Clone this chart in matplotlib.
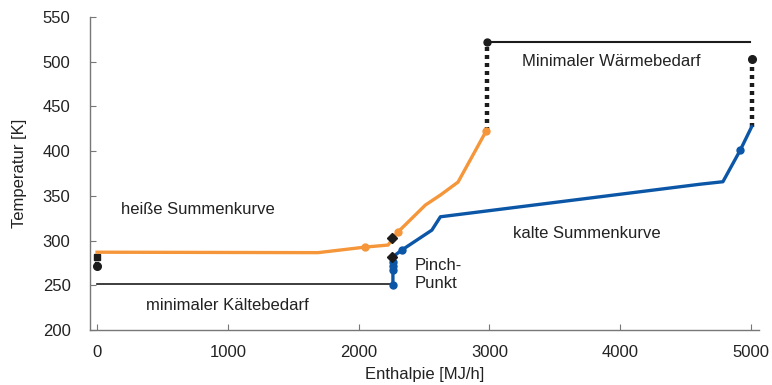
import matplotlib
matplotlib.use("Agg")
import matplotlib.pyplot as plt

plt.rcParams['font.family'] = ['Liberation Sans', 'DejaVu Sans']

# hot composite curve (orange)
hot_h = [0, 1690, 2050, 2225, 2300, 2510, 2625, 2760, 2975]
hot_t = [287, 286.5, 292.7, 295, 309.5, 339.7, 350.9, 365.4, 422.5]
hot_mark_h = [2050, 2300, 2975]
hot_mark_t = [292.7, 309.5, 422.5]

# cold composite curve (blue)
cold_h = [2262, 2262, 2330, 2560, 2625, 4610, 4785, 4918, 5005]
cold_t = [250.2, 281.9, 289.4, 311.7, 326.6, 363, 365.8, 401.2, 427.3]
cold_mark_h = [2262, 2264, 2264, 2264, 2330, 4918]
cold_mark_t = [250.2, 267, 271.5, 276.3, 289.4, 401.2]

# pinch markers
pinch_h = [2257, 2257]
pinch_t = [302.8, 281.9]

# minimal heat / cold demand
heat_top_t = 522.4
heat_left_h = 2980
heat_right_h = 4995
heat_right_top_t = 502.7
cold_line_t = 251.3
left_dot_t = 271.5
left_sq_t = 281.9

orange = '#F5963A'
blue = '#0B56A6'
black = '#1c1c1c'

fig = plt.figure(figsize=(7.72, 3.85), dpi=100)
ax = fig.add_axes([90/772, 55/385, 669/772, 313/385])

# minimal cold demand line
ax.plot([0, cold_h[0]], [cold_line_t, cold_line_t], color=black, lw=1.2)
# left dotted
ax.plot([0, 0], [left_dot_t, left_sq_t], color=black, lw=3, ls=(0, (1, 1)))
ax.plot([0], [left_dot_t], 'o', color=black, ms=5.5)
ax.plot([0], [left_sq_t], 's', color=black, ms=4)

# minimal heat demand
ax.plot([heat_left_h, heat_left_h], [hot_t[-1], heat_top_t], color=black, lw=3.2, ls=(0, (0.9, 0.9)))
ax.plot([heat_left_h, heat_right_h], [heat_top_t, heat_top_t], color=black, lw=1.5)
ax.plot([heat_left_h], [heat_top_t], 'o', color=black, ms=5)
ax.plot([cold_h[-1], cold_h[-1]], [cold_t[-1], heat_right_top_t], color=black, lw=3.2, ls=(0, (0.9, 0.9)))
ax.plot([cold_h[-1]], [heat_right_top_t], 'o', color=black, ms=5.5)

# curves
ax.plot(hot_h, hot_t, color=orange, lw=2.4)
ax.plot(hot_mark_h, hot_mark_t, 'o', color=orange, ms=5)
ax.plot(cold_h, cold_t, color=blue, lw=2.4)
ax.plot(cold_mark_h, cold_mark_t, 'o', color=blue, ms=5)
ax.plot(pinch_h, pinch_t, 'D', color=black, ms=5, ls='none')

ax.set_xlim(-54, 5061)
ax.set_ylim(200, 550)
ax.set_xticks([0, 1000, 2000, 3000, 4000, 5000])
ax.set_yticks([200, 250, 300, 350, 400, 450, 500, 550])
for s in ['top', 'right']:
    ax.spines[s].set_visible(False)
for s in ['left', 'bottom']:
    ax.spines[s].set_color('#777777')
    ax.spines[s].set_linewidth(1.0)
ax.tick_params(direction='in', length=4, color='#777777', labelsize=12, labelcolor='#222222')
ax.tick_params(axis='y', pad=14)
ax.tick_params(axis='x', pad=11)

ax.set_xlabel('Enthalpie [MJ/h]', fontsize=12, color='#222222', labelpad=5)
ax.set_ylabel('Temperatur [K]', fontsize=12, color='#222222', labelpad=11)

tk = dict(fontsize=12, color='#222222', va='center', ha='left')
ax.text(3250, 499.7, 'Minimaler Wärmebedarf', **tk)
ax.text(180, 335.2, 'heiße Summenkurve', **tk)
ax.text(3180, 308.4, 'kalte Summenkurve', **tk)
ax.text(2425, 262, 'Pinch-\nPunkt', linespacing=1.3, **tk)
ax.text(375, 227.8, 'minimaler Kältebedarf', **tk)

fig.savefig('out.png', dpi=100)
